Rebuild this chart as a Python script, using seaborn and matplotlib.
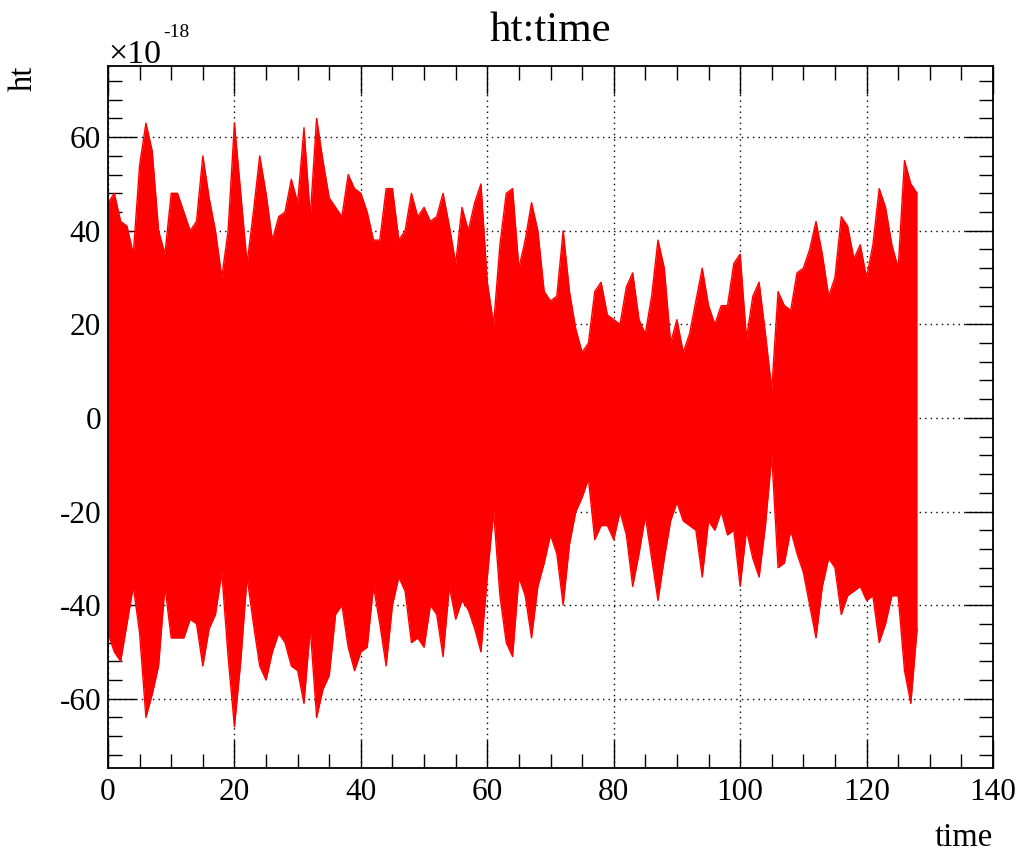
import numpy as np
import pandas as pd
import matplotlib
matplotlib.use("Agg")
import matplotlib.pyplot as plt
import seaborn as sns

# envelope of ht (units of 1e-18) read per 1 s bin, t = 0..128
time_bins = np.arange(0, 129)
ht_upper = [46, 48, 42, 41, 35, 54, 63, 57, 40, 35,
            48, 48, 44, 40, 42, 56, 47, 40, 30, 40,
            63, 48, 33, 44, 56, 48, 38, 43, 44, 51,
            46, 62, 43, 64, 55, 47, 45, 43, 52, 49,
            48, 44, 38, 38, 49, 49, 38, 40, 48, 43,
            45, 42, 43, 48, 41, 33, 45, 40, 46, 50,
            29, 20, 37, 48, 49, 32, 38, 46, 40, 27,
            25, 26, 40, 27, 19, 14, 16, 27, 29, 22,
            21, 20, 28, 31, 21, 18, 26, 38, 32, 16,
            21, 14, 18, 25, 32, 24, 20, 24, 24, 33,
            35, 17, 26, 29, 18, 6, 27, 24, 23, 31,
            32, 36, 42, 35, 26, 30, 43, 41, 34, 37,
            30, 37, 49, 45, 37, 32, 55, 50, 48]
ht_lower = [-46, -50, -52, -44, -36, -46, -64, -59, -53, -36,
            -47, -47, -47, -43, -44, -53, -45, -42, -33, -51,
            -66, -52, -34, -44, -53, -56, -50, -46, -48, -53,
            -54, -61, -45, -64, -58, -55, -42, -40, -49, -54,
            -50, -49, -36, -44, -53, -40, -34, -37, -48, -47,
            -49, -40, -42, -51, -36, -43, -39, -41, -45, -50,
            -34, -20, -38, -48, -51, -34, -38, -47, -36, -31,
            -25, -29, -40, -27, -20, -17, -13, -26, -23, -23,
            -26, -20, -25, -36, -29, -21, -30, -39, -30, -22,
            -18, -22, -23, -24, -34, -22, -24, -20, -25, -24,
            -36, -24, -30, -34, -23, -8, -32, -31, -24, -29,
            -33, -40, -47, -36, -30, -32, -42, -38, -37, -36,
            -39, -38, -48, -44, -38, -38, -54, -61, -45]

# long form table: one row per bin and edge of the trace
df = pd.DataFrame({
    "time": np.concatenate([time_bins, time_bins]),
    "ht": np.concatenate([ht_upper, ht_lower]),
    "edge": ["upper"] * len(time_bins) + ["lower"] * len(time_bins),
})

sns.set_style("ticks")
plt.rcParams["font.family"] = ["Liberation Serif", "DejaVu Serif"]
plt.rcParams["axes.unicode_minus"] = False
plt.rcParams["text.color"] = "black"
plt.rcParams["xtick.labelcolor"] = "black"
plt.rcParams["ytick.labelcolor"] = "black"
plt.rcParams["axes.labelcolor"] = "black"

W, H = 1028, 852
fig = plt.figure(figsize=(W / 100, H / 100), dpi=100)
ax = fig.add_axes([108 / W, 1 - 768 / H, 885 / W, 702 / H])

# dense trace: area between edges plus the edges themselves
ax.fill_between(time_bins, ht_lower, ht_upper, color="#ff0000", linewidth=0)
sns.lineplot(data=df, x="time", y="ht", hue="edge", palette=["#ff0000", "#ff0000"],
             ax=ax, linewidth=1.0, estimator=None, legend=False)

ax.set_xlim(0, 140)
ax.set_ylim(-74.8, 75.2)
ax.set_xticks(np.arange(0, 141, 20))
ax.set_xticks(np.arange(0, 141, 5), minor=True)
ax.set_yticks(np.arange(-60, 61, 20))
ax.set_yticks(np.arange(-72, 75, 4), minor=True)
ax.tick_params(which="both", direction="in", top=True, right=True,
               labelsize=22.5, width=1, color="black")
ax.tick_params(which="major", length=20)
ax.tick_params(which="minor", length=10)
ax.tick_params(axis="x", which="major", pad=7)
ax.tick_params(axis="y", which="major", pad=5)
ax.grid(True, which="major", color="black", linestyle=(0, (1, 3)), linewidth=1)
for s in ax.spines.values():
    s.set_linewidth(1.3)
    s.set_color("black")

ax.set_title("ht:time", fontsize=31, pad=18, color="black")
ax.set_xlabel("time", fontsize=23.5, loc="right")
ax.xaxis.set_label_coords(1.0, -0.078)
ax.set_ylabel("ht", fontsize=23.5, loc="top")
ax.yaxis.set_label_coords(-0.078, 1.0)

fig.text(108 / W, 1 - 63 / H, "\u00d710", fontsize=24.5, ha="left", va="baseline")
fig.text(163 / W, 1 - 37 / H, "-18", fontsize=14, ha="left", va="baseline")

fig.savefig("out.png", dpi=100, facecolor="white")
